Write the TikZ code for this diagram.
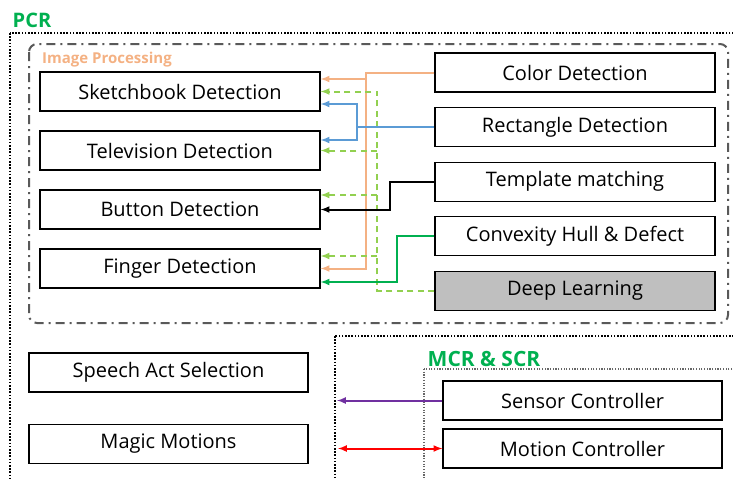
\documentclass[tikz,border=0pt]{standalone}
\usepackage{fontspec}
\setmainfont{Open Sans}
\usetikzlibrary{shapes.geometric, arrows}
\definecolor{pcrgreen}{HTML}{00B050}
\definecolor{iporange}{HTML}{F4B183}
\definecolor{ipblue}{HTML}{5B9BD5}
\definecolor{iplime}{HTML}{92D050}
\definecolor{ipgray}{HTML}{595959}
\definecolor{dlgray}{HTML}{BFBFBF}
\definecolor{scpurple}{HTML}{7030A0}
\tikzstyle{module} = [rectangle, minimum width=280pt, minimum height=39pt, text centered, draw=black, line width=1.3pt, fill=white, font=\fontsize{20}{24}\selectfont]
\tikzstyle{grouplabel} = [font=\bfseries\fontsize{20}{24}\selectfont, text=pcrgreen, inner sep=0pt]
\tikzstyle{outerbox} = [line width=2pt, dash pattern=on 1.6pt off 1.6pt]
\tikzstyle{arrow} = [line width=2pt,->,>=latex]
\tikzstyle{dl} = [dash pattern=on 6pt off 4.5pt]

\begin{document}
\begin{tikzpicture}[x=1pt, y=1pt, node distance=59pt]
		\useasboundingbox (0,0) rectangle (733,-479);
		% group frames
		\draw [outerbox] (10,-33) rectangle (745,-495);
		\draw [ipgray, line width=2pt, dash pattern=on 9pt off 5pt on 2pt off 5pt, rounded corners=8pt] (29,-44) rectangle (728,-323);
		\draw [outerbox] (335,-336) rectangle (745,-495);
		\draw [black!60, line width=1.3pt, dash pattern=on 1.2pt off 1.5pt] (424,-369) rectangle (745,-495);
		\node (pcr) [grouplabel] at (32,-20) {PCR};
		\node (iplabel) [grouplabel, text=iporange, font=\bfseries\fontsize{15}{17}\selectfont] at (107,-60) {Image Processing};
		\node (mcrlabel) [grouplabel, font=\bfseries\fontsize{21}{24}\selectfont] at (484,-359) {MCR \& SCR};
		% image processing: targets
		\node (sketch) [module] at (180,-91.5) {Sketchbook Detection};
		\node (tv) [module, below of=sketch] {Television Detection};
		\node (button) [module, below of=tv] {Button Detection};
		\node (finger) [module, below of=button] {Finger Detection};
		% image processing: methods
		\node (color) [module] at (575,-72.5) {Color Detection};
		\node (rect) [module, below of=color, yshift=4.4pt] {Rectangle Detection};
		\node (template) [module, below of=rect, yshift=4.4pt] {Template matching};
		\node (convex) [module, below of=template, yshift=4.4pt] {Convexity Hull \& Defect};
		\node (deep) [module, below of=convex, yshift=4.4pt, fill=dlgray] {Deep Learning};
		% rest
		\node (speech) [module, minimum width=279pt] at (168.5,-372.5) {Speech Act Selection};
		\node (magic) [module, minimum width=279pt, below of=speech, yshift=-12.5pt] {Magic Motions};
		\node (sensor) [module, minimum width=279pt] at (582.5,-400.5) {Sensor Controller};
		\node (motion) [module, minimum width=279pt, below of=sensor, yshift=11pt] {Motion Controller};
		\coordinate (mcr) at (337,-336);
		% connectors
		\draw [arrow, iporange] (color.west) -- ++(-68,0) |- (finger.east);
		\draw [arrow, iporange] ([xshift=-68pt]color.west) |- ([yshift=12.5pt]sketch.east);
		\coordinate (dj) at ([xshift=-57pt]deep.west);
		\draw [arrow, iplime, dl] (deep.west) -- (dj) |- (sketch.east);
		\draw [arrow, iplime, dl] (dj |- tv.east) -- (tv.east);
		\draw [arrow, iplime, dl] ([yshift=14.5pt]button.east -| dj) -- ([yshift=14.5pt]button.east);
		\draw [arrow, iplime, dl] ([yshift=12.5pt]finger.east -| dj) -- ([yshift=12.5pt]finger.east);
		\draw [arrow, ipblue] (rect.west) -- ++(-77,0) |- ([yshift=-12.5pt]sketch.east);
		\draw [arrow, ipblue] ([xshift=-77pt]rect.west) |- ([yshift=10.5pt]tv.east);
		\draw [arrow] (template.west) -- ++(-44,0) |- (button.east);
		\draw [arrow, pcrgreen] (convex.west) -- ++(-37,0) |- ([yshift=-13.5pt]finger.east);
		\draw [arrow, scpurple] (sensor.west) -- (mcr |- sensor.west);
		\draw [arrow, <->, red] ([xshift=1pt]mcr |- motion.west) -- (motion.west);
	\end{tikzpicture}
\end{document}
